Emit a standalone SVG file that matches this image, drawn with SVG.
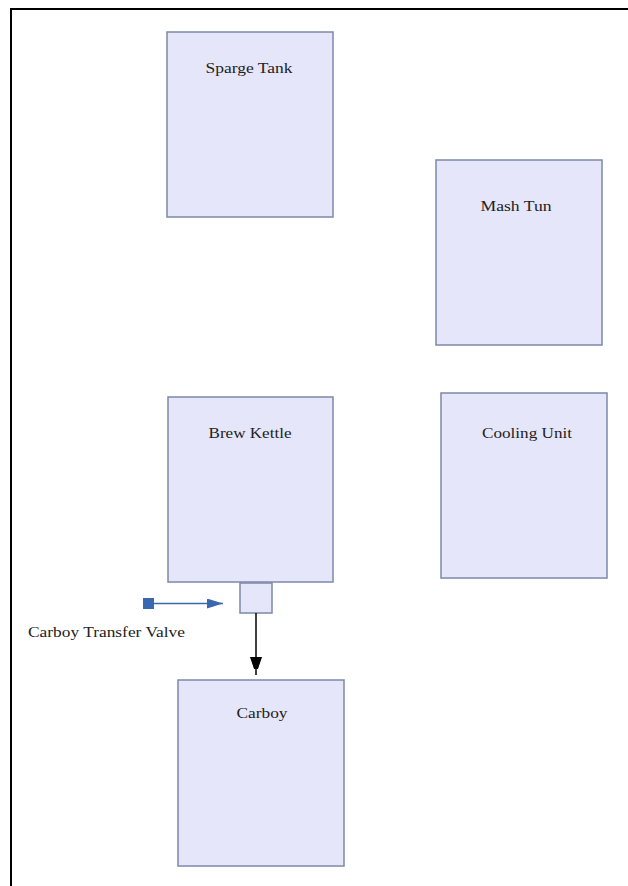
<svg xmlns="http://www.w3.org/2000/svg" width="628" height="886" viewBox="0 0 628 886">
<style>
.box{fill:#e6e6fa;stroke:#7d88a8;stroke-width:1.5}
.lbl{font-family:"Liberation Serif","Times New Roman",serif;font-size:15px;fill:#222;text-anchor:middle}
</style>
<defs>
<marker id="ab" markerWidth="12" markerHeight="18" refX="18" refY="6" orient="auto" markerUnits="userSpaceOnUse"><path d="M0,0 L18,6 L0,12 Z" fill="#000"/></marker>
<marker id="abl" markerWidth="16" markerHeight="10" refX="16" refY="5" orient="auto" markerUnits="userSpaceOnUse"><path d="M0,0 L16,5 L0,10 Z" fill="#3a68b0"/></marker>
</defs>
<rect width="628" height="886" fill="#fff"/>
<path d="M11,886 V9 H628" fill="none" stroke="#000" stroke-width="2"/>
<g id="sparge-tank"><rect class="box" x="167" y="32" width="166" height="185"/><text class="lbl" x="249" y="73" textLength="87" lengthAdjust="spacingAndGlyphs">Sparge Tank</text></g>
<g id="mash-tun"><rect class="box" x="436" y="160" width="166" height="185"/><text class="lbl" x="516" y="211" textLength="71" lengthAdjust="spacingAndGlyphs">Mash Tun</text></g>
<g id="brew-kettle"><rect class="box" x="168" y="397" width="165" height="185"/><text class="lbl" x="250" y="438" textLength="83" lengthAdjust="spacingAndGlyphs">Brew Kettle</text></g>
<g id="cooling-unit"><rect class="box" x="441" y="393" width="166" height="185"/><text class="lbl" x="527" y="438" textLength="90" lengthAdjust="spacingAndGlyphs">Cooling Unit</text></g>
<g id="valve"><rect class="box" x="240" y="583" width="32" height="30"/></g>
<g id="carboy"><rect class="box" x="178" y="680" width="166" height="186"/><text class="lbl" x="262" y="718" textLength="51" lengthAdjust="spacingAndGlyphs">Carboy</text></g>
<g id="valve-label"><text x="28" y="637" font-family="Liberation Serif, Times New Roman, serif" font-size="15" fill="#222" textLength="157" lengthAdjust="spacingAndGlyphs">Carboy Transfer Valve</text></g>
<g id="connectors">
<rect x="143" y="598" width="11" height="11" fill="#3a68b0"/>
<line x1="154" y1="603.5" x2="223" y2="603.5" stroke="#3a68b0" stroke-width="1.5" marker-end="url(#abl)"/>
<line x1="256" y1="613" x2="256" y2="675" stroke="#000" stroke-width="1.5" marker-end="url(#ab)"/>
</g>
</svg>
